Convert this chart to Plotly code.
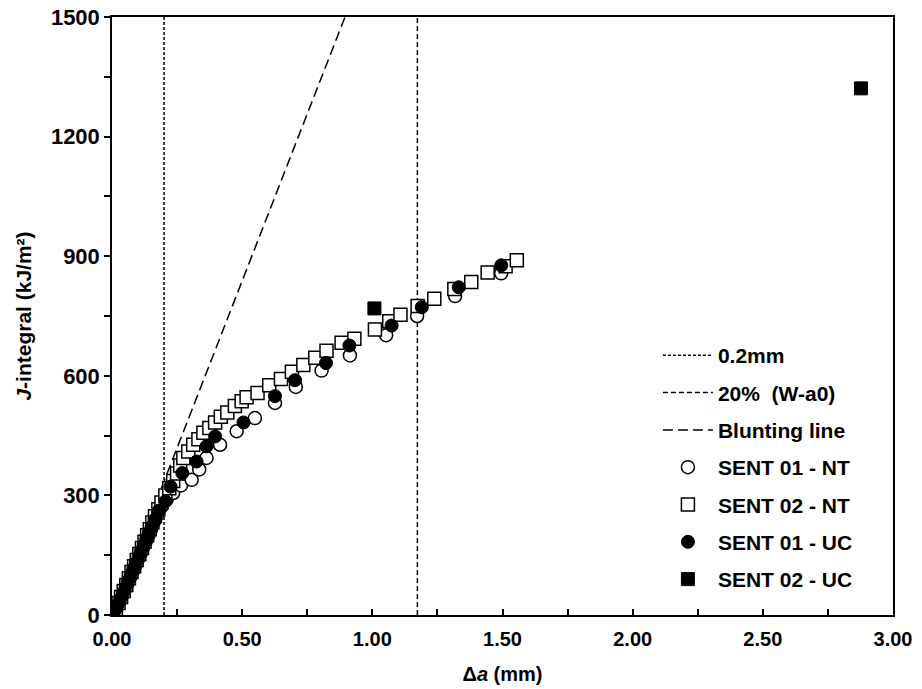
import plotly.graph_objects as go

# ---------------- data ----------------
sent01_nt_x = [0.010, 0.020, 0.030, 0.040, 0.050, 0.060, 0.070, 0.080, 0.090, 0.100, 0.110, 0.120,
               0.130, 0.140, 0.150, 0.160, 0.175, 0.190, 0.210, 0.235, 0.265, 0.306, 0.335, 0.363,
               0.415, 0.479, 0.549, 0.626, 0.706, 0.805, 0.914, 1.053, 1.172, 1.318, 1.495]
sent01_nt_y = [8, 22, 35, 50, 65, 80, 95, 110, 125, 140, 155, 170,
               185, 200, 215, 232, 252, 272, 290, 306, 325, 339, 365, 394,
               427, 461, 494, 532, 572, 613, 651, 702, 750, 800, 857]

sent02_nt_x = [0.015, 0.025, 0.035, 0.045, 0.055, 0.065, 0.075, 0.085, 0.095, 0.105, 0.115, 0.125,
               0.135, 0.145, 0.155, 0.165, 0.178, 0.190, 0.205, 0.220, 0.235, 0.250, 0.262, 0.274,
               0.293, 0.312, 0.332, 0.351, 0.374, 0.396, 0.418, 0.443, 0.472, 0.498, 0.517, 0.559,
               0.604, 0.649, 0.691, 0.735, 0.781, 0.824, 0.882, 0.931, 1.010, 1.065, 1.108, 1.174,
               1.238, 1.315, 1.380, 1.443, 1.512, 1.555]
sent02_nt_y = [15, 30, 45, 60, 75, 92, 108, 122, 138, 153, 168, 184,
               200, 215, 232, 248, 265, 282, 300, 318, 336, 355, 375, 394,
               410, 427, 441, 457, 469, 483, 497, 508, 524, 536, 546, 557,
               576, 592, 610, 627, 645, 663, 683, 693, 716, 737, 753, 775,
               793, 818, 835, 859, 875, 890]

sent01_uc_x = [0.012, 0.022, 0.032, 0.042, 0.052, 0.062, 0.072, 0.082, 0.092, 0.102, 0.112, 0.122,
               0.132, 0.142, 0.152, 0.165, 0.180, 0.205, 0.225, 0.270, 0.325, 0.363, 0.396, 0.505,
               0.626, 0.703, 0.822, 0.912, 1.074, 1.190, 1.332, 1.495]
sent01_uc_y = [12, 26, 40, 55, 70, 86, 101, 116, 131, 146, 161, 176,
               192, 207, 222, 240, 262, 285, 322, 356, 385, 423, 448, 483,
               549, 589, 632, 676, 726, 772, 822, 877]

sent02_uc_x = [1.008, 2.877]
sent02_uc_y = [769, 1321]

limit_02mm = 0.2          # 0.2 mm exclusion line
limit_20pct = 1.173       # 20% (W-a0)
blunting_slope = 1676.0   # kJ/m^2 per mm
blunting_x = [0.19, 0.895]
y_range = [0, 1500]
x_range = [0, 3.0]

BLACK = "black"
FONT = "Liberation Sans, Arial, sans-serif"

fig = go.Figure()

fig.add_trace(go.Scatter(x=[limit_02mm, limit_02mm], y=y_range, mode="lines", name="0.2mm",
                         legendgroup="a", line=dict(color=BLACK, width=1.5, dash="3px,2px")))
fig.add_trace(go.Scatter(x=[limit_20pct, limit_20pct], y=y_range, mode="lines", name="20%  (W-a0)",
                         legendgroup="b", line=dict(color=BLACK, width=1.5, dash="5px,3px")))
fig.add_trace(go.Scatter(x=blunting_x, y=[blunting_slope * v for v in blunting_x], mode="lines",
                         name="Blunting line", legendgroup="c",
                         line=dict(color=BLACK, width=1.5, dash="10px,5px")))

fig.add_trace(go.Scatter(x=sent01_nt_x, y=sent01_nt_y, mode="markers", name="SENT 01 - NT",
                         legendgroup="d",
                         marker=dict(symbol="circle", size=13, color="white",
                                     line=dict(color=BLACK, width=1.5))))
fig.add_trace(go.Scatter(x=sent02_nt_x, y=sent02_nt_y, mode="markers", name="SENT 02 - NT",
                         legendgroup="e",
                         marker=dict(symbol="square", size=13, color="white",
                                     line=dict(color=BLACK, width=1.5))))
fig.add_trace(go.Scatter(x=sent01_uc_x, y=sent01_uc_y, mode="markers", name="SENT 01 - UC",
                         legendgroup="f",
                         marker=dict(symbol="circle", size=13, color=BLACK,
                                     line=dict(color=BLACK, width=1))))
fig.add_trace(go.Scatter(x=sent02_uc_x, y=sent02_uc_y, mode="markers", name="SENT 02 - UC",
                         legendgroup="g",
                         marker=dict(symbol="square", size=13, color=BLACK,
                                     line=dict(color=BLACK, width=1))))

fig.update_layout(
    width=922, height=689,
    margin=dict(l=112, r=29, t=17, b=74),
    paper_bgcolor="white", plot_bgcolor="white",
    font=dict(family=FONT, size=20, color=BLACK, weight="bold"),
    showlegend=True,
    legend=dict(x=0.699, y=0.468, xanchor="left", yanchor="top",
                font=dict(family=FONT, size=21, color=BLACK, weight="bold"),
                bgcolor="rgba(0,0,0,0)", itemwidth=50, traceorder="grouped",
                tracegroupgap=7),
    xaxis=dict(range=x_range, dtick=0.5, tick0=0, tickformat=".2f",
               showline=True, linecolor=BLACK, linewidth=1.5, mirror=True,
               ticks="inside", ticklen=6, tickwidth=1.5, tickcolor=BLACK,
               minor=dict(dtick=0.25, ticks="inside", ticklen=6, tickwidth=1.5, tickcolor=BLACK),
               showgrid=False, zeroline=False, ticklabelstandoff=5, automargin=False,
               tickfont=dict(family=FONT, size=20, color=BLACK, weight="bold"),
               title=dict(text="Δ<i>a</i> (mm)", standoff=18,
                          font=dict(family=FONT, size=20, color=BLACK, weight="bold"))),
    yaxis=dict(range=y_range, dtick=300, tick0=0,
               showline=True, linecolor=BLACK, linewidth=1.5, mirror=True,
               ticks="outside", ticklen=6, tickwidth=1.5, tickcolor=BLACK,
               minor=dict(dtick=150, ticks="outside", ticklen=6, tickwidth=1.5, tickcolor=BLACK),
               showgrid=False, zeroline=False, automargin=False,
               tickfont=dict(family=FONT, size=22, color=BLACK, weight="bold"),
               title=dict(text="<i>J</i>-integral (kJ/m²)", standoff=14,
                          font=dict(family=FONT, size=21, color=BLACK, weight="bold"))),
)

fig.write_html("out.html")
